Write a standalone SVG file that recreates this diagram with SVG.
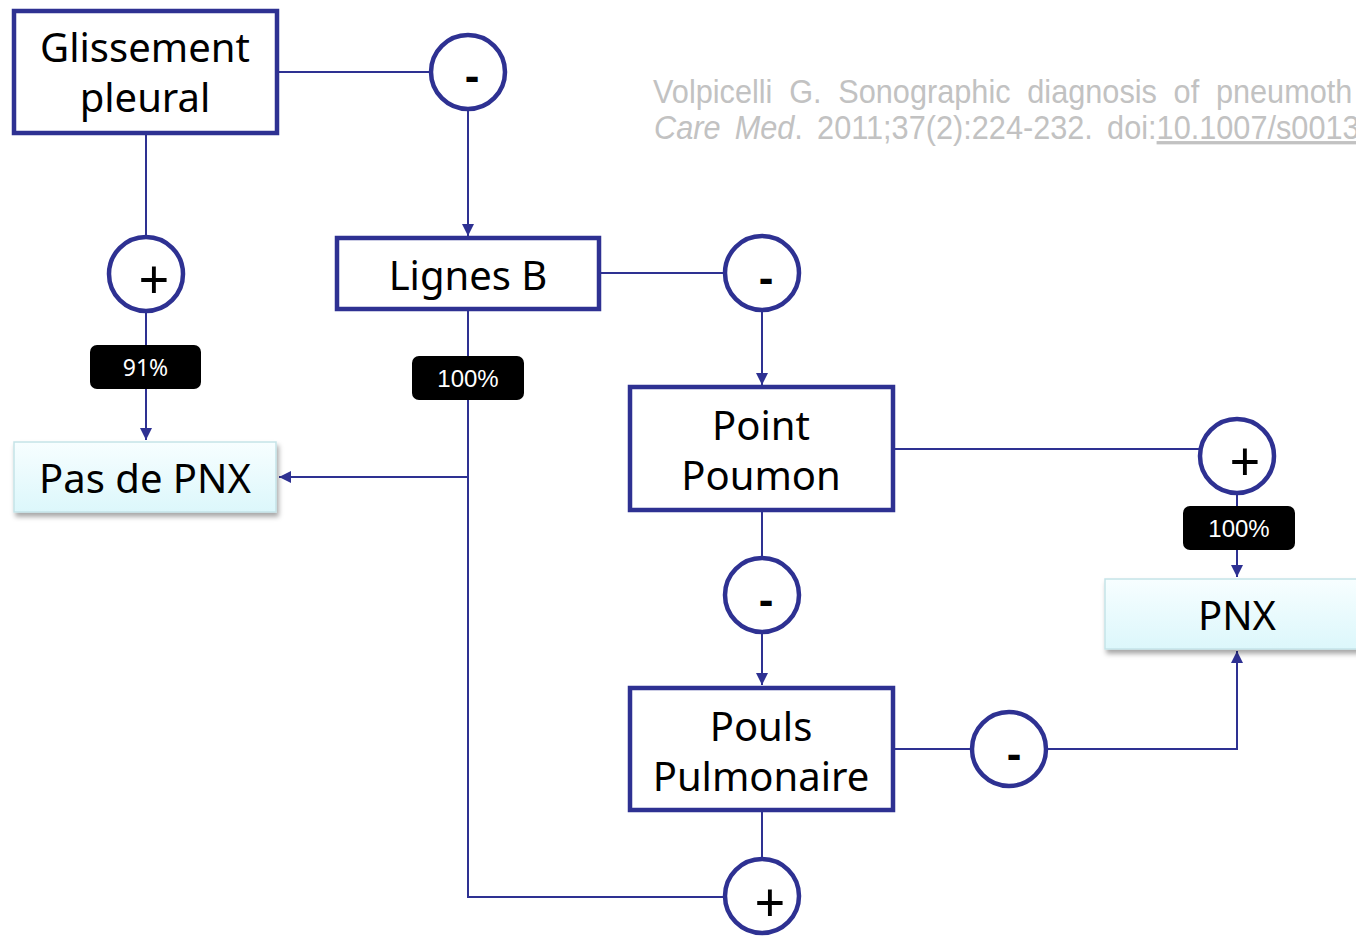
<svg xmlns="http://www.w3.org/2000/svg" width="1356" height="936" viewBox="0 0 1356 936">
<defs>
<style>
.box{fill:#fff;stroke:#2e3192;stroke-width:4.5}
.res{fill:url(#cyan);stroke:#c5e3e8;stroke-width:1.5;filter:url(#shadow)}
.circ{fill:#fff;stroke:#2e3192;stroke-width:4.5}
.lbl{fill:#000}
.conn{fill:none;stroke:#2e3192;stroke-width:2}
.t{font-family:"Noto Sans","DejaVu Sans",sans-serif;font-size:40px;fill:#000;text-anchor:middle}
.sign{font-family:"Noto Sans","DejaVu Sans",sans-serif;font-size:54px;fill:#000;text-anchor:middle}
.minus{font-family:"Liberation Sans",sans-serif;font-size:44px;font-weight:bold;fill:#000;text-anchor:middle}
.pct{font-family:"Liberation Sans",sans-serif;font-size:24px;fill:#fff;text-anchor:middle}
.cite{font-family:"Liberation Sans",Arial,sans-serif;font-size:33px;fill:#c2c2c2}
</style>
<linearGradient id="cyan" x1="0" y1="0" x2="0" y2="1">
<stop offset="0" stop-color="#f7feff"/>
<stop offset="1" stop-color="#dcf7fb"/>
</linearGradient>
<filter id="shadow" x="-10%" y="-20%" width="120%" height="150%">
<feDropShadow dx="2" dy="4" stdDeviation="2.5" flood-color="#000" flood-opacity="0.35"/>
</filter>
<marker id="arr" viewBox="0 0 12 12" refX="12" refY="6" markerWidth="12" markerHeight="12" markerUnits="userSpaceOnUse" orient="auto">
<path d="M0,0 L12,6 L0,12 Z" fill="#2e3192"/>
</marker>
</defs>

<g id="citation" transform="scale(0.93,1)">
<text class="cite" x="702.2" y="103" word-spacing="8.8">Volpicelli G. Sonographic diagnosis of pneumoth</text>
<text class="cite" x="703.2" y="139" word-spacing="6.1"><tspan font-style="italic">Care Med</tspan>. 2011;37(2):224-232. doi:<tspan text-decoration="underline">10.1007/s0013</tspan></text>
</g>

<g id="connectors">
<path class="conn" d="M278,72 H430"/>
<path class="conn" d="M468,110 V236" marker-end="url(#arr)"/>
<path class="conn" d="M146,134 V236"/>
<path class="conn" d="M146,313 V440" marker-end="url(#arr)"/>
<path class="conn" d="M468,311 V897 H724"/>
<path class="conn" d="M468,477 H279" marker-end="url(#arr)"/>
<path class="conn" d="M600,273 H724"/>
<path class="conn" d="M762,311 V385" marker-end="url(#arr)"/>
<path class="conn" d="M894,449 H1199"/>
<path class="conn" d="M1237,494 V577" marker-end="url(#arr)"/>
<path class="conn" d="M762,512 V557"/>
<path class="conn" d="M762,633 V685" marker-end="url(#arr)"/>
<path class="conn" d="M894,749 H971"/>
<path class="conn" d="M1048,749 H1237 V651" marker-end="url(#arr)"/>
<path class="conn" d="M762,812 V857"/>
</g>

<g id="glissement">
<rect class="box" x="14" y="11" width="263" height="122"/>
<text class="t" x="145" y="62">Glissement</text>
<text class="t" x="145" y="112">pleural</text>
</g>

<g id="minus1">
<circle class="circ" cx="468" cy="72" r="37"/>
<text class="minus" x="472" y="91">-</text>
</g>

<g id="plus1">
<circle class="circ" cx="146" cy="274" r="37"/>
<text class="sign" x="154" y="299">+</text>
</g>

<g id="label91">
<rect class="lbl" x="90" y="345" width="111" height="44" rx="7"/>
<text class="pct" x="145.5" y="376" style="font-family:'Noto Sans',sans-serif;font-size:23px">91%</text>
</g>

<g id="lignesB">
<rect class="box" x="337" y="238" width="262" height="71"/>
<text class="t" x="468" y="290">Lignes B</text>
</g>

<g id="minus2">
<circle class="circ" cx="762" cy="273" r="37"/>
<text class="minus" x="766" y="293">-</text>
</g>

<g id="label100a">
<rect class="lbl" x="412" y="356" width="112" height="44" rx="7"/>
<text class="pct" x="468" y="387">100%</text>
</g>

<g id="pasDePNX">
<rect class="res" x="14" y="442" width="262" height="70"/>
<text class="t" x="145" y="493">Pas de PNX</text>
</g>

<g id="pointPoumon">
<rect class="box" x="630" y="387" width="263" height="123"/>
<text class="t" x="761" y="440">Point</text>
<text class="t" x="761" y="490">Poumon</text>
</g>

<g id="plus2">
<circle class="circ" cx="1237" cy="456" r="37"/>
<text class="sign" x="1245" y="481">+</text>
</g>

<g id="label100b">
<rect class="lbl" x="1183" y="506" width="112" height="44" rx="7"/>
<text class="pct" x="1239" y="537">100%</text>
</g>

<g id="pnx">
<rect class="res" x="1105" y="579" width="264" height="70"/>
<text class="t" x="1237" y="630">PNX</text>
</g>

<g id="minus3">
<circle class="circ" cx="762" cy="595" r="37"/>
<text class="minus" x="766" y="615">-</text>
</g>

<g id="poulsPulmonaire">
<rect class="box" x="630" y="688" width="263" height="122"/>
<text class="t" x="761" y="741">Pouls</text>
<text class="t" x="761" y="791">Pulmonaire</text>
</g>

<g id="minus4">
<circle class="circ" cx="1009" cy="749" r="37"/>
<text class="minus" x="1014" y="769">-</text>
</g>

<g id="plus3">
<circle class="circ" cx="762" cy="896" r="37"/>
<text class="sign" x="770" y="922">+</text>
</g>
</svg>
